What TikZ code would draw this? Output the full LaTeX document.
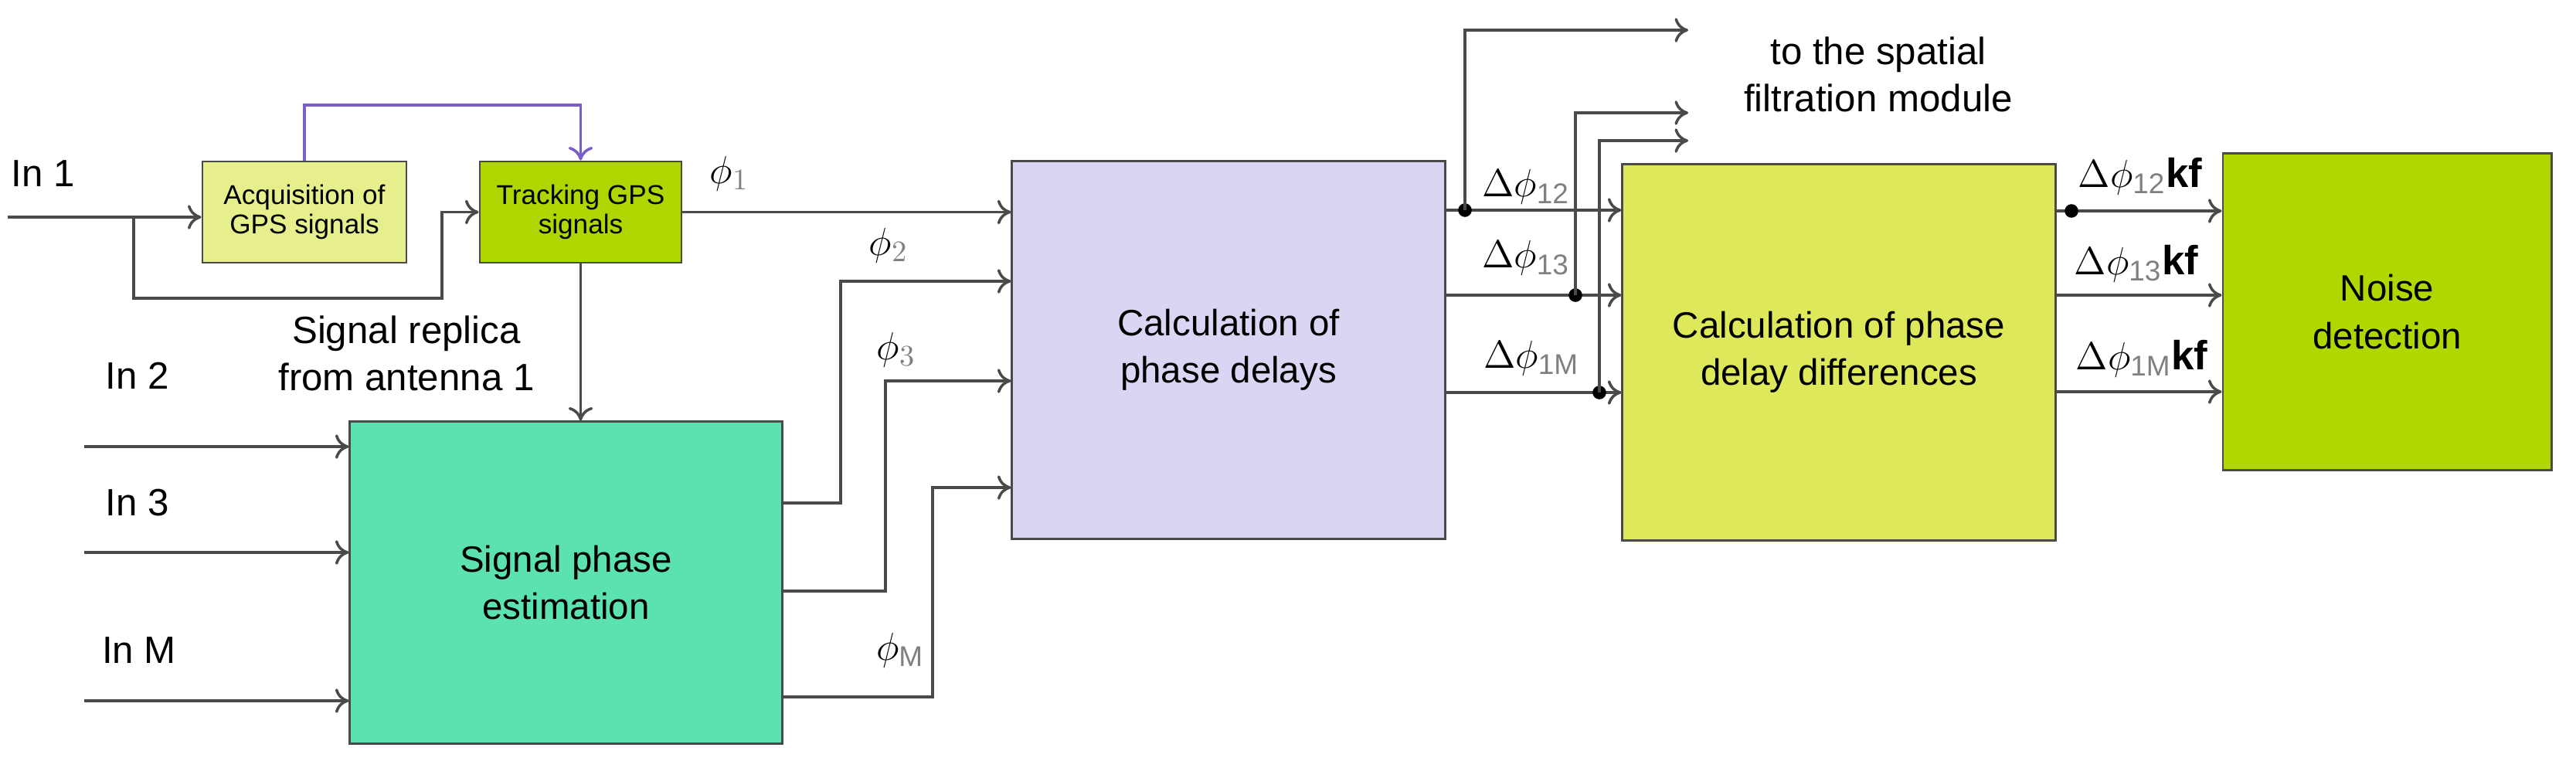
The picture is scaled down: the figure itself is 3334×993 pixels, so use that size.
\documentclass[tikz,border=0pt]{standalone}
\usepackage{fontspec}
\setmainfont{Liberation Sans}
\usetikzlibrary{arrows.meta}

\definecolor{acqcol}{HTML}{E6EF8C}
\definecolor{trkcol}{HTML}{AED600}
\definecolor{sigcol}{HTML}{5CE1B0}
\definecolor{calccol}{HTML}{DAD5F3}
\definecolor{diffcol}{HTML}{DDE95A}
\definecolor{noisecol}{HTML}{B0D800}
\definecolor{wirecol}{HTML}{4A4A4A}
\definecolor{loopcol}{HTML}{7B5FC4}

\tikzset{
  block/.style={draw=wirecol, line width=0.8pt, align=center, inner sep=0pt},
  big/.style={font=\fontsize{13.5}{17.4}\selectfont},
  small/.style={font=\fontsize{10}{10.9}\selectfont},
  wire/.style={draw=wirecol, line width=1pt, -{To[length=5pt,width=9pt]}},
  plain/.style={draw=wirecol, line width=1pt},
  lbl/.style={font=\fontsize{14}{17.4}\selectfont, align=center},
  sym/.style={font=\fontsize{15}{17}\selectfont},
  dot/.style={circle, fill=black, inner sep=0pt, minimum size=5pt}
}
\newcommand{\dph}[1]{$\Delta\phi_{\textcolor{gray}{\mathrm{#1}}}$}

\begin{document}
\begin{tikzpicture}[x=0.01cm, y=-0.01cm]
   \useasboundingbox (0,0) rectangle (3334,993);

   % Blocks
   \node[block, small, fill=acqcol, minimum width=2.64cm, minimum height=1.31cm] (acq) at (394,274.5) {Acquisition of\\GPS signals};
   \node[block, small, fill=trkcol, minimum width=2.61cm, minimum height=1.31cm] (trk) at (751.5,274.5) {Tracking GPS\\signals};
   \node[block, big, fill=sigcol, minimum width=5.59cm, minimum height=4.16cm] (sig) at (732.5,754) {Signal phase\\estimation};
   \node[block, big, fill=calccol, minimum width=5.60cm, minimum height=4.88cm] (calc) at (1590,453) {Calculation of\\phase delays};
   \node[block, big, fill=diffcol, minimum width=5.60cm, minimum height=4.86cm] (diff) at (2380,456) {Calculation of phase\\delay differences};
   \node[block, big, fill=noisecol, minimum width=4.25cm, minimum height=4.09cm] (noise) at (3089.5,403.5) {Noise\\detection};

   % Levels
   \coordinate (in1) at (10,281);
   \coordinate (in2) at (109,578);
   \coordinate (in3) at (109,715);
   \coordinate (inM) at (109,907);
   \coordinate (top) at (0,136);
   \coordinate (y364) at (0,364);
   \coordinate (y493) at (0,493);
   \coordinate (y631) at (0,631);
   \coordinate (y651) at (0,651);
   \coordinate (y765) at (0,765);
   \coordinate (y902) at (0,902);
   \coordinate (r12) at (0,272);
   \coordinate (r13) at (0,382);
   \coordinate (r1M) at (0,508);
   \coordinate (k12) at (0,273);
   \coordinate (k1M) at (0,507);

   % Input 1 and tracking loop
   \draw[wire] (in1) -- (acq.west |- in1);
   \draw[wire] (173,281) |- (572,386) |- (trk.west);
   \draw[wire, draw=loopcol] (acq.north) |- (top -| trk.north) -- (trk.north);
   \draw[wire] (trk.south) -- (trk.south |- sig.north);
   \draw[wire] (trk.east) -- (calc.west |- trk.east);

   % Other antennas
   \draw[wire] (in2) -- (sig.west |- in2);
   \draw[wire] (in3) -- (sig.west |- in3);
   \draw[wire] (inM) -- (sig.west |- inM);

   % Phases to delays
   \draw[wire] (sig.east |- y651) -| (1088,364) -- (calc.west |- y364);
   \draw[wire] (sig.east |- y765) -| (1146,493) -- (calc.west |- y493);
   \draw[wire] (sig.east |- y902) -| (1207,631) -- (calc.west |- y631);

   % Delays to differences
   \draw[wire] (calc.east |- r12) -- (diff.west |- r12);
   \draw[wire] (calc.east |- r13) -- (diff.west |- r13);
   \draw[wire] (calc.east |- r1M) -- (diff.west |- r1M);
   \node[dot] (b12) at (1896,272) {};
   \node[dot] (b13) at (2039,382) {};
   \node[dot] (b1M) at (2070,508) {};
   \draw[wire] (b12.center) |- (2185,39);
   \draw[wire] (b13.center) |- (2185,146);
   \draw[wire] (b1M.center) |- (2185,182);

   % Differences to noise detection
   \draw[wire] (diff.east |- k12) -- (noise.west |- k12);
   \draw[wire] (diff.east |- r13) -- (noise.west |- r13);
   \draw[wire] (diff.east |- k1M) -- (noise.west |- k1M);
   \node[dot] (d12) at (2681,273) {};

   % Labels
   \node[lbl] (l1) at (56,225) {In 1};
   \node[lbl] (l2) at (178,486) {In 2};
   \node[lbl] (l3) at (178,651) {In 3};
   \node[lbl] (lM) at (180,842) {In M};
   \node[lbl] (rep) at (526,457) {Signal replica\\from antenna 1};
   \node[lbl] (out) at (2431,96) {to the spatial\\filtration module};
   \node[sym] (p1) at (944,225) {$\phi_{\textcolor{gray}{1}}$};
   \node[sym] (p2) at (1150,318) {$\phi_{\textcolor{gray}{2}}$};
   \node[sym] (p3) at (1160,453) {$\phi_{\textcolor{gray}{3}}$};
   \node[sym] (pM) at (1165,842) {$\phi_{\textcolor{gray}{\mathrm{M}}}$};
   \node[sym] (q12) at (1975,242) {\dph{12}};
   \node[sym] (q13) at (1975,334) {\dph{13}};
   \node[sym] (q1M) at (1982,464) {\dph{1M}};
   \node[sym] (f12) at (2770,228) {\dph{12}\textbf{kf}};
   \node[sym] (f13) at (2765,341) {\dph{13}\textbf{kf}};
   \node[sym] (f1M) at (2772,464) {\dph{1M}\textbf{kf}};
\end{tikzpicture}
\end{document}
